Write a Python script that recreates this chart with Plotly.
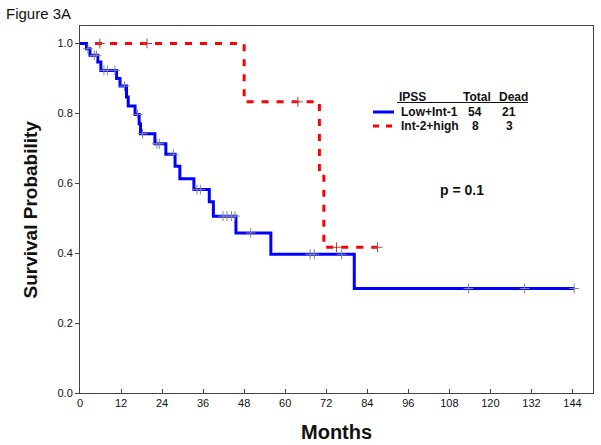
import plotly.graph_objects as go

# ---------------- data ----------------
blue_name = "Low+Int-1"
blue_time = [0, 1.9, 2.9, 5.2, 6.1, 10.7, 11.7, 13.6, 14.1, 16.1, 17.3, 17.7, 21.9, 25.1,
             27.8, 29.2, 33.3, 37.8, 39.0, 45.6, 55.8, 80.2, 144.5]
blue_surv = [1.0, 0.985, 0.966, 0.947, 0.923, 0.900, 0.878, 0.847, 0.821, 0.797, 0.770,
             0.742, 0.713, 0.683, 0.649, 0.613, 0.582, 0.547, 0.506, 0.458, 0.397, 0.299, 0.299]
blue_cens_time = [2.3, 4.2, 4.8, 7.0, 8.0, 10.2, 13.0, 16.8, 18.3, 22.5, 23.2, 27.3, 34.2,
                  35.2, 41.8, 43.0, 44.3, 45.3, 49.9, 67.3, 68.5, 76.5, 113.6, 130.0, 144.5]
blue_cens_surv = [0.985, 0.966, 0.966, 0.923, 0.923, 0.923, 0.878, 0.797, 0.742, 0.713,
                  0.713, 0.683, 0.582, 0.582, 0.506, 0.506, 0.506, 0.506, 0.458, 0.397,
                  0.397, 0.397, 0.299, 0.299, 0.299]

red_name = "Int-2+high"
red_time = [0, 48.0, 70.0, 71.3, 87.0]
red_surv = [1.0, 0.833, 0.625, 0.417, 0.417]
red_cens_time = [5.8, 19.6, 63.7, 75.0, 87.0]
red_cens_surv = [1.0, 1.0, 0.833, 0.417, 0.417]

legend_header = ["IPSS", "Total", "Dead"]
groups = [blue_name, red_name]
totals = ["54", "8"]
deaths = ["21", "3"]
p_text = "p = 0.1"

x_ticks = [0, 12, 24, 36, 48, 60, 72, 84, 96, 108, 120, 132, 144]
y_ticks = [0.0, 0.2, 0.4, 0.6, 0.8, 1.0]

# ---------------- figure ----------------
W, H = 601, 445
L, R, T, B = 80, 593, 26, 393
FONT = "Arial, 'Liberation Sans', sans-serif"


def px(x):
    return (x - L) / (R - L)


def py(y):
    return (B - y) / (B - T)


BLUE = "#0000FF"
RED = "#FF0000"

fig = go.Figure()
fig.add_trace(go.Scatter(x=red_time, y=red_surv, mode="lines", line_shape="hv",
                         line=dict(color=RED, width=3, dash="7px,8px"), showlegend=False))
fig.add_trace(go.Scatter(x=red_cens_time, y=red_cens_surv, mode="markers",
                         marker=dict(symbol="cross-thin", size=7, line=dict(color="#B04040", width=1)),
                         showlegend=False))
fig.add_trace(go.Scatter(x=blue_time, y=blue_surv, mode="lines", line_shape="hv",
                         line=dict(color=BLUE, width=3), showlegend=False))
fig.add_trace(go.Scatter(x=blue_cens_time, y=blue_cens_surv, mode="markers",
                         marker=dict(symbol="cross-thin", size=7, line=dict(color="#8080A8", width=1)),
                         showlegend=False))

axis_common = dict(showline=True, linecolor="#444", linewidth=1, mirror=True,
                   showgrid=False, zeroline=False, ticklen=4,
                   tickcolor="#444", automargin=False,
                   tickfont=dict(family=FONT, size=11, color="#111"))

fig.update_xaxes(range=[0, 150], tickvals=x_ticks, ticktext=[str(v) for v in x_ticks],
                 ticks="inside", **axis_common)
fig.update_yaxes(range=[0, 1.05], tickvals=y_ticks, ticktext=[f"{v:.1f}" for v in y_ticks],
                 ticks="outside", **axis_common)

ann = []
shapes = []
ann.append(dict(text="Figure 3A", xref="paper", yref="paper", x=px(4), y=py(13),
                xanchor="left", yanchor="middle", showarrow=False,
                font=dict(family=FONT, size=15, color="#111")))
ann.append(dict(text="<b>Months</b>", xref="paper", yref="paper", x=0.5, y=py(432),
                xanchor="center", yanchor="middle", showarrow=False,
                font=dict(family=FONT, size=20, color="#111")))
ann.append(dict(text="<b>Survival Probability</b>", xref="paper", yref="paper", x=px(30), y=0.5,
                xanchor="center", yanchor="middle", showarrow=False, textangle=-90,
                font=dict(family=FONT, size=19, color="#111")))

# legend block
hx = [397, 461, 497]
hy = 96.5
for i, t in enumerate(legend_header):
    ann.append(dict(text=f"<b>{t}</b>", xref="paper", yref="paper", x=px(hx[i]), y=py(hy),
                    xanchor="left", yanchor="middle", showarrow=False,
                    font=dict(family=FONT, size=12, color="#111")))
shapes.append(dict(type="line", xref="paper", yref="paper", x0=px(397), x1=px(528),
                   y0=py(102.5), y1=py(102.5), line=dict(color="#111", width=1)))
row_y = [112, 126]
line_styles = [dict(color=BLUE, width=3), dict(color=RED, width=3, dash="6px,7px")]
for i in range(2):
    shapes.append(dict(type="line", xref="paper", yref="paper", x0=px(373), x1=px(394),
                       y0=py(row_y[i]), y1=py(row_y[i]), line=line_styles[i]))
    ann.append(dict(text=f"<b>{groups[i]}</b>", xref="paper", yref="paper", x=px(399), y=py(row_y[i]),
                    xanchor="left", yanchor="middle", showarrow=False,
                    font=dict(family=FONT, size=12, color="#111")))
    ann.append(dict(text=f"<b>{totals[i]}</b>", xref="paper", yref="paper", x=px(475), y=py(row_y[i]),
                    xanchor="center", yanchor="middle", showarrow=False,
                    font=dict(family=FONT, size=12, color="#111")))
    ann.append(dict(text=f"<b>{deaths[i]}</b>", xref="paper", yref="paper", x=px(509), y=py(row_y[i]),
                    xanchor="center", yanchor="middle", showarrow=False,
                    font=dict(family=FONT, size=12, color="#111")))

ann.append(dict(text=f"<b>{p_text}</b>", xref="paper", yref="paper", x=px(462), y=py(190),
                xanchor="center", yanchor="middle", showarrow=False,
                font=dict(family=FONT, size=14, color="#111")))

fig.update_layout(width=W, height=H, margin=dict(l=L, r=W - R, t=T, b=H - B, autoexpand=False),
                  paper_bgcolor="white", plot_bgcolor="white",
                  annotations=ann, shapes=shapes, showlegend=False)

fig.write_html("out.html", config={"displayModeBar": False},
               post_script="document.body.style.margin='0px';document.body.style.overflow='hidden';")
